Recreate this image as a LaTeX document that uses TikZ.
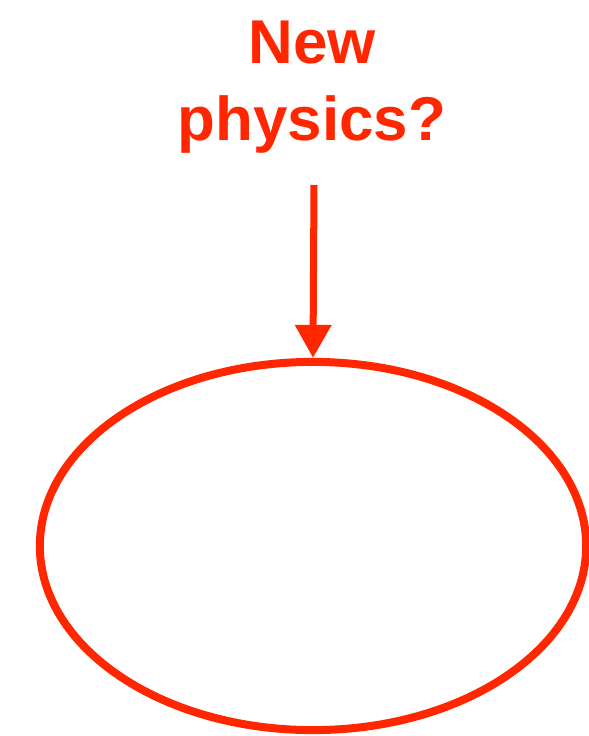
\documentclass[tikz,border=0pt]{standalone}
\usepackage{fontspec}
\setmainfont{Liberation Sans}
\usetikzlibrary{arrows.meta,positioning,shapes.geometric}
\definecolor{physred}{RGB}{255,38,0}

\begin{document}
\begin{tikzpicture}[
    x=0.01cm, y=-0.01cm,
    labeltext/.style={text=physred, font=\fontsize{17.6}{21.8}\selectfont\bfseries, align=center, inner sep=0pt},
    blob/.style={ellipse, draw=physred, line width=0.08cm, minimum width=5.46cm, minimum height=3.68cm, inner sep=0pt},
    arrow/.style={-{Triangle[length=0.33cm, width=0.35cm]}, line width=0.07cm, color=physred}
]
\useasboundingbox (0,0) rectangle (589,736);
\node[labeltext, anchor=base] (np) at (312,140) {New\\physics?};
\node[blob] (ring) at (313,546) {};
\coordinate (start) at (314,185);
\draw[arrow] (start) -- (ring.north);
\end{tikzpicture}
\end{document}
